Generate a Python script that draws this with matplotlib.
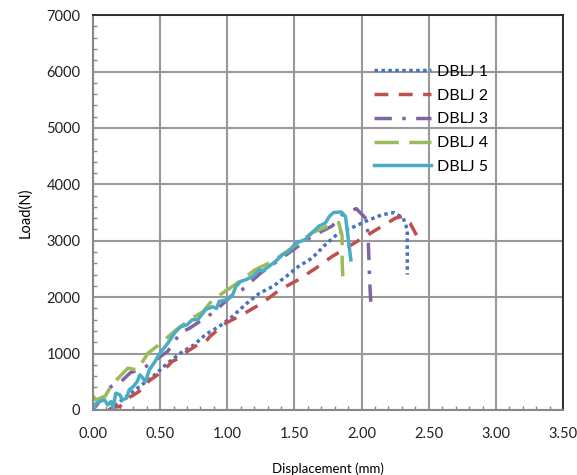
import matplotlib.pyplot as plt
from matplotlib.ticker import MultipleLocator, FormatStrFormatter

# Datos
x1 = [0.12, 0.30, 0.45, 0.556, 0.667, 0.754, 0.84, 0.94, 1.04, 1.14, 1.24, 1.34, 1.44,
      1.53, 1.63, 1.73, 1.83, 1.95, 2.03, 2.15, 2.24, 2.31, 2.34, 2.34]
y1 = [0, 330, 600, 830, 1035, 1155, 1340, 1480, 1660, 1880, 2070, 2190, 2370,
      2545, 2690, 2930, 3140, 3255, 3345, 3460, 3500, 3400, 3200, 2400]

x2 = [0.12, 0.16, 0.20, 0.27, 0.30, 0.36, 0.395, 0.48, 0.53, 0.59, 0.64, 0.70, 0.78,
      0.84, 0.87, 0.99, 1.11, 1.26, 1.39, 1.53, 1.66, 1.78, 1.905, 2.03, 2.15,
      2.25, 2.30, 2.36, 2.44]
y2 = [0, 50, 60, 225, 260, 355, 474, 620, 710, 860, 918, 1035, 1155,
      1213, 1300, 1540, 1687, 1895, 2130, 2310, 2515, 2720, 2900, 3080, 3255,
      3400, 3430, 3315, 2960]

x3 = [0.0, 0.02, 0.135, 0.21, 0.28, 0.345, 0.395, 0.555, 0.61, 0.645, 0.72, 0.89,
      1.04, 1.11, 1.25, 1.41, 1.63, 1.78, 1.855, 1.96, 2.04, 2.05, 2.06, 2.07]
y3 = [0, 60, 414, 503, 663, 710, 770, 1035, 1215, 1360, 1450, 1717,
      2040, 2130, 2430, 2700, 3080, 3260, 3460, 3570, 3375, 2960, 2280, 1830]

x4 = [0.0, 0.02, 0.09, 0.14, 0.26, 0.33, 0.41, 0.49, 0.62, 0.72, 0.82, 0.89, 1.02,
      1.11, 1.21, 1.34, 1.46, 1.63, 1.78, 1.83, 1.855, 1.855, 1.86]
y4 = [250, 180, 237, 444, 740, 710, 1006, 1155, 1420, 1600, 1745, 1950, 2160,
      2310, 2490, 2635, 2840, 3140, 3290, 3320, 3080, 2635, 2370]

x5 = [0.0, 0.025, 0.05, 0.087, 0.11, 0.136, 0.15, 0.17, 0.20, 0.22, 0.25, 0.27, 0.30,
      0.33, 0.35, 0.37, 0.39, 0.42, 0.46, 0.50, 0.56, 0.61, 0.65, 0.70, 0.74, 0.78,
      0.84, 0.89, 0.92, 0.94, 0.99, 1.04, 1.065, 1.10, 1.14, 1.19, 1.24, 1.26, 1.31,
      1.36, 1.41, 1.46, 1.51, 1.58, 1.63, 1.68, 1.73, 1.76, 1.79, 1.85, 1.88, 1.92]
y5 = [0, 118, 148, 178, 89, 148, 36, 296, 270, 178, 207, 355, 414,
      503, 622, 570, 500, 710, 850, 1010, 1190, 1370, 1470, 1510, 1600, 1600,
      1780, 1830, 1800, 1925, 1950, 2040, 2190, 2280, 2310, 2370, 2490, 2460, 2545,
      2635, 2750, 2810, 2960, 3020, 3140, 3255, 3315, 3430, 3500, 3510, 3430, 2660]

labels = ['DBLJ 1', 'DBLJ 2', 'DBLJ 3', 'DBLJ 4', 'DBLJ 5']


def line_plot():
    plt.rcParams['font.family'] = ['Lato', 'DejaVu Sans']

    fig = plt.figure(figsize=(5.77, 4.75), dpi=100)
    ax = fig.add_axes([0.161, 0.137, 0.815, 0.831])

    lw = 2.5
    ax.plot(x1, y1, color='#4472C4', lw=lw, linestyle=(0, (1, 1)), label=labels[0])
    ax.plot(x2, y2, color='#C0504D', lw=lw, linestyle=(0, (4, 3)), label=labels[1])
    ax.plot(x3, y3, color='#8064A2', lw=lw, linestyle=(0, (5, 3, 1, 3)), label=labels[2])
    ax.plot(x4, y4, color='#9BBB59', lw=lw, linestyle=(0, (7, 3)), label=labels[3])
    ax.plot(x5, y5, color='#4BACC6', lw=lw, label=labels[4])

    # Ejes y rejilla
    ax.set_xlim(0, 3.5)
    ax.set_ylim(0, 7000)
    ax.xaxis.set_major_locator(MultipleLocator(0.5))
    ax.xaxis.set_minor_locator(MultipleLocator(0.1))
    ax.yaxis.set_major_locator(MultipleLocator(1000))
    ax.yaxis.set_minor_locator(MultipleLocator(200))
    ax.xaxis.set_major_formatter(FormatStrFormatter('%.2f'))
    ax.grid(which='major', color='#999999', lw=1.5)
    ax.set_axisbelow(True)

    ax.tick_params(which='major', length=0, labelsize=10.5, labelcolor='#222222')
    ax.tick_params(axis='x', which='major', pad=12)
    ax.tick_params(axis='y', which='major', pad=9)
    ax.tick_params(which='minor', direction='in', length=3, width=1, color='#888888')

    for s in ['left', 'bottom']:
        ax.spines[s].set_color('#888888')
        ax.spines[s].set_linewidth(1.5)
    for s in ['top', 'right']:
        ax.spines[s].set_color('#222222')
        ax.spines[s].set_linewidth(1.3)

    ax.set_xlabel('Displacement (mm)', fontsize=9.5, labelpad=16)
    ax.set_ylabel('Load(N)', fontsize=10.5, labelpad=10)

    ax.legend(loc='upper left', bbox_to_anchor=(0.58, 0.895), frameon=False,
              fontsize=11.5, handlelength=3.6, handletextpad=0.35, labelspacing=0.6,
              borderpad=0)

    fig.savefig('out.png', dpi=100)


if __name__ == '__main__':
    line_plot()
